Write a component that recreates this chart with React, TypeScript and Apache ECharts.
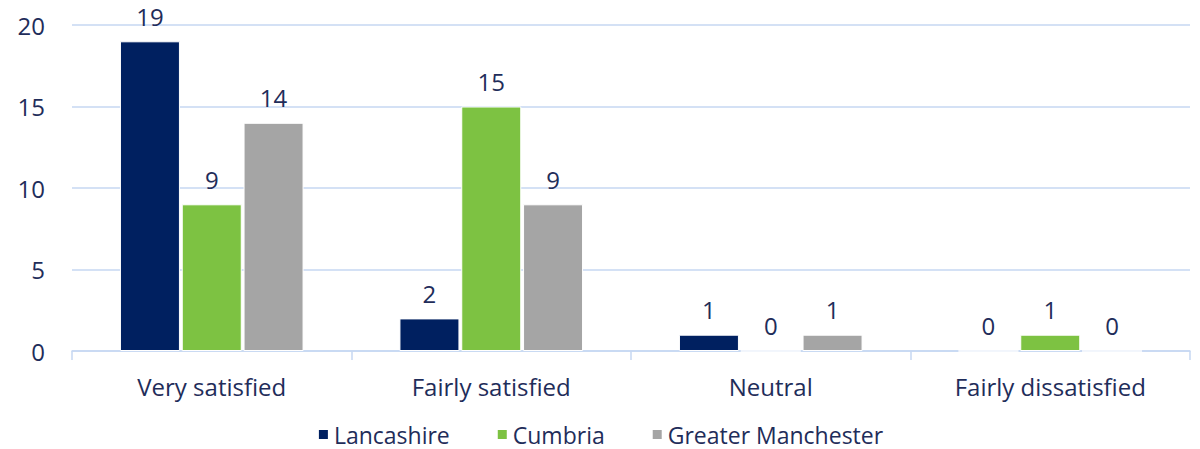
import React, { useEffect, useRef } from "react";
import * as echarts from "echarts";

const categories = ["Very satisfied", "Fairly satisfied", "Neutral", "Fairly dissatisfied"];
const lancashire = [19, 2, 1, 0];
const cumbria = [9, 15, 0, 1];
const greaterManchester = [14, 9, 1, 0];
const seriesNames = ["Lancashire", "Cumbria", "Greater Manchester"];
const colors = ["#002060", "#7DC242", "#A5A5A5"];

const textColor = "#1F2D5A";
const font = "'Open Sans', Lato, sans-serif";
const fs = 24;

export default function App() {
  const ref = useRef<HTMLDivElement>(null);
  useEffect(() => {
    if (!ref.current) return;
    const chart = echarts.init(ref.current, undefined, { renderer: "svg" });
    const data = [lancashire, cumbria, greaterManchester];
    chart.setOption({
      animation: false,
      textStyle: { fontFamily: font },
      grid: { left: 72, right: 10, top: 25, bottom: 98 },
      legend: {
        top: 423,
        left: "center",
        padding: 0,
        itemWidth: 11,
        itemHeight: 11,
        itemGap: 46,
        itemTextGap: 11,
        icon: "rect",
        textStyle: { color: textColor, fontSize: 23, fontFamily: font, lineHeight: 22 },
        data: seriesNames,
      },
      xAxis: {
        type: "category",
        data: categories,
        axisLine: { lineStyle: { color: "#C6D7F2", width: 1.5 } },
        axisTick: { show: true, length: 9, lineStyle: { color: "#C6D7F2", width: 1.5 } },
        axisLabel: { color: textColor, fontSize: fs, margin: 23, fontFamily: font },
      },
      yAxis: {
        type: "value",
        min: 0,
        max: 20,
        interval: 5,
        axisLine: { show: false },
        axisTick: { show: false },
        splitLine: { lineStyle: { color: "#C6D7F2", width: 1.5 } },
        axisLabel: { color: textColor, fontSize: fs, margin: 27, fontFamily: font },
      },
      series: seriesNames.map((name, i) => ({
        name,
        type: "bar",
        data: data[i],
        barWidth: 60,
        barGap: "3%",
        itemStyle: { color: colors[i], borderColor: "#ffffff", borderWidth: 1 },
        label: {
          show: true,
          position: "top",
          distance: 14,
          lineHeight: 22,
          color: textColor,
          fontSize: fs,
          fontFamily: font,
        },
      })),
    });
    return () => chart.dispose();
  }, []);
  return (
    <div
      ref={ref}
      style={{ position: "fixed", left: 0, top: 0, width: 1200, height: 449, background: "#fff" }}
    />
  );
}
